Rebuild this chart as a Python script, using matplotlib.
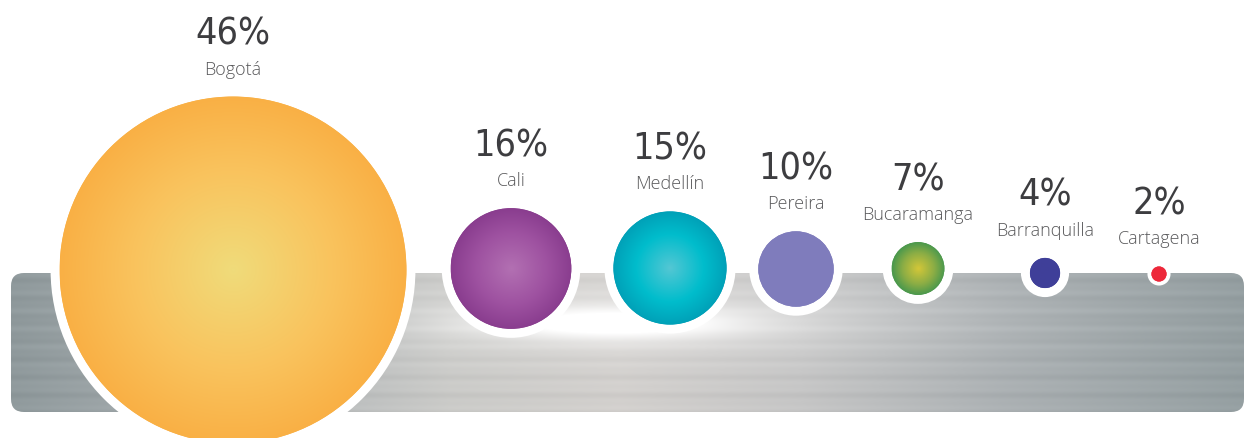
import numpy as np
import matplotlib
matplotlib.use("Agg")
import matplotlib.pyplot as plt
from matplotlib.patches import Circle, FancyBboxPatch

# ---- data ----
cities = ["Bogotá", "Cali", "Medellín", "Pereira", "Bucaramanga", "Barranquilla", "Cartagena"]
shares = [46, 16, 15, 10, 7, 4, 2]
pct_labels = ["46%", "16%", "15%", "10%", "7%", "4%", "2%"]

# ---- layout / style ----
W, H = 1246, 438
x_centers = [233, 511, 670, 796, 918, 1045, 1159]
y_centers = [270, 268.5, 268, 269, 268.5, 273, 274]
px_per_pct = 3.77
ring = [9, 9, 9, 9, 9, 9, 4]
grad = [
    [(0.94, 0.86, 0.48), (0.98, 0.76, 0.36), (0.98, 0.69, 0.27)],
    [(0.70, 0.44, 0.70), (0.62, 0.32, 0.63), (0.54, 0.24, 0.56)],
    [(0.33, 0.78, 0.83), (0.00, 0.74, 0.80), (0.00, 0.63, 0.72)],
    [(0.50, 0.49, 0.74), (0.50, 0.49, 0.74), (0.50, 0.49, 0.74)],
    [(0.83, 0.78, 0.22), (0.55, 0.68, 0.27), (0.30, 0.60, 0.30)],
    [(0.25, 0.25, 0.60), (0.25, 0.25, 0.60), (0.25, 0.25, 0.60)],
    [(0.93, 0.16, 0.23), (0.93, 0.16, 0.23), (0.93, 0.16, 0.23)],
]

fig = plt.figure(figsize=(W / 100, H / 100), dpi=100)
ax = fig.add_axes([0, 0, 1, 1])
ax.set_xlim(0, W)
ax.set_ylim(H, 0)
ax.axis("off")

# ---- band ----
bx0, bx1, by0, by1 = 11, 1244, 273, 412
xx = np.arange(bx0, bx1)
yy = np.arange(by0, by1)
X, Y = np.meshgrid(xx, yy)
kx = [11, 250, 450, 620, 800, 1000, 1244]
kc = np.array([(0.56, 0.60, 0.61), (0.68, 0.70, 0.71), (0.79, 0.79, 0.78),
               (0.82, 0.81, 0.80), (0.77, 0.77, 0.77), (0.67, 0.69, 0.70),
               (0.58, 0.62, 0.63)])
base = np.stack([np.interp(X, kx, kc[:, c]) for c in range(3)], axis=-1)
# soft brushed streaks (deterministic)
streak = 0.012 * np.sin(Y * 0.33) + 0.008 * np.sin(Y * 0.71 + 1.0)
base = np.clip(base + streak[..., None], 0, 1)
g1 = np.exp(-(((X - 610) / 130) ** 2 + ((Y - 323) / 16) ** 2))
g2 = np.exp(-(((X - 650) / 280) ** 2 + ((Y - 318) / 40) ** 2)) * 0.35
g = np.clip(g1 + g2, 0, 1)[..., None]
band = base * (1 - g) + g
band_patch = FancyBboxPatch((bx0, by0), bx1 - bx0, by1 - by0,
                            boxstyle="round,pad=0,rounding_size=13",
                            facecolor="none", edgecolor="none")
ax.add_patch(band_patch)
im = ax.imshow(band, extent=(bx0, bx1, by1, by0), origin="upper",
               interpolation="bilinear", zorder=1)
im.set_clip_path(band_patch)

# ---- circles ----
for i, v in enumerate(shares):
    r = v * px_per_pct
    cx, cy = x_centers[i], y_centers[i]
    ax.add_patch(Circle((cx, cy), r + ring[i], facecolor="white", edgecolor="none", zorder=2))
    cp = Circle((cx, cy), r, facecolor=grad[i][2], edgecolor="none", zorder=3)
    ax.add_patch(cp)
    n = max(int(2 * r), 4)
    gx = np.linspace(-1, 1, n)
    GX, GY = np.meshgrid(gx, gx)
    d = np.clip(np.sqrt(GX ** 2 + GY ** 2), 0, 1)
    c0, c1, c2 = [np.array(c) for c in grad[i]]
    t = d[..., None]
    img = np.where(t < 0.6, c0 + (c1 - c0) * (t / 0.6), c1 + (c2 - c1) * ((t - 0.6) / 0.4))
    ci = ax.imshow(img, extent=(cx - r, cx + r, cy + r, cy - r), origin="upper",
                   interpolation="bilinear", zorder=4)
    ci.set_clip_path(cp)
    top = cy - r
    ax.text(cx, top - 22, cities[i], ha="center", va="baseline", fontsize=13,
            family=["Open Sans", "DejaVu Sans"], fontweight="light", color="#5a5a5c", zorder=5)
    ax.text(cx, top - 52, pct_labels[i], ha="center", va="baseline", fontsize=27,
            family=["DejaVu Sans"], fontstretch="condensed", fontweight="light",
            color="#3d3d40", zorder=5)

ax.set_xlim(0, W)
ax.set_ylim(H, 0)
fig.savefig("out.png", dpi=100, facecolor="white")
